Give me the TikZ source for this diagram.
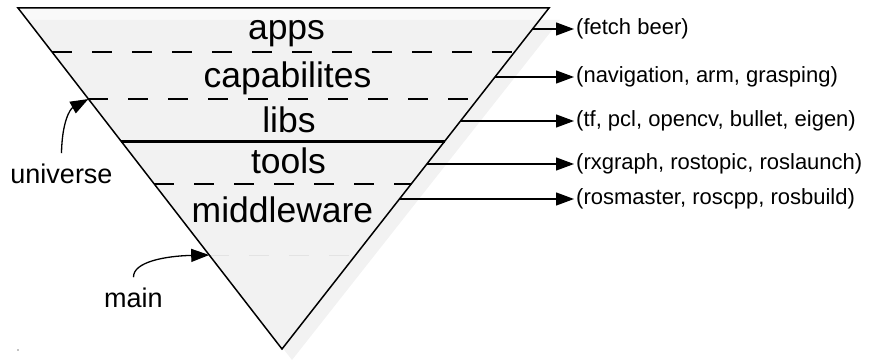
\documentclass[tikz,border=0pt]{standalone}
\usepackage{fontspec}
\setmainfont{Liberation Sans}
\usetikzlibrary{arrows.meta,calc}

\begin{document}
\begin{tikzpicture}[x=1pt,y=-1pt,
  layername/.style={anchor=base,inner sep=0pt,font=\fontsize{35.5}{40}\selectfont},
  pkgs/.style={anchor=west,inner xsep=2pt,inner ysep=0pt,font=\fontsize{22}{26}\selectfont},
  sidename/.style={anchor=base,inner sep=0pt,font=\fontsize{27}{30}\selectfont},
  sepline/.style={line width=1.3pt,dash pattern=on 20pt off 20pt},
  pointer/.style={line width=1.3pt,-{Triangle[length=18pt,width=13pt]}}]

\useasboundingbox (0,0) rectangle (871,361);

%%% TRIANGLE %%%
\coordinate (TL) at (18,8);
\coordinate (TR) at (549,8);
\coordinate (B) at (282,349);
\fill[gray!5] (TL) -- (TR) -- (B) -- cycle;
\fill[gray!10] (28,20) -- (560,20) -- (292,360) -- cycle; % shadow

%%% LAYER LINES %%%
\draw[sepline] (52.1,52) -- (514.5,52);
\draw[sepline] (88.4,99) -- (477.7,99);
\draw[line width=3pt] (121,141) -- (444.9,141);
\draw[sepline] (154.2,184) -- (411.2,184);
\draw[gray!22,line width=1pt,dash pattern=on 20pt off 20pt] (209.2,255) -- (355.6,255);

\draw[line width=1.5pt,line join=miter] (TL) -- (TR) -- (B) -- cycle;

%%% LAYER NAMES %%%
\node[layername] (apps) at (286.5,40) {apps};
\node[layername] (caps) at (287.5,88) {capabilites};
\node[layername] (libs) at (289,132) {libs};
\node[layername] (tools) at (288.5,173) {tools};
\node[layername] (mw) at (282.5,222) {middleware};

%%% PACKAGES %%%
\coordinate (e1) at (532.6,29);
\coordinate (e2) at (495,77);
\coordinate (e3) at (460.5,121);
\coordinate (e4) at (426.9,164);
\coordinate (e5) at (399.4,199);
\node[pkgs] (p1) at (574,29) {(fetch beer)};
\node[pkgs] (p2) at (574,77) {(navigation, arm, grasping)};
\node[pkgs] (p3) at (574,121) {(tf, pcl, opencv, bullet, eigen)};
\node[pkgs] (p4) at (574,164) {(rxgraph, rostopic, roslaunch)};
\node[pkgs] (p5) at (574,199) {(rosmaster, roscpp, rosbuild)};
\foreach \i in {1,...,5}{
\draw[pointer] (e\i) -- (p\i.west);
}

%%% UNIVERSE AND MAIN %%%
\node[sidename] (uni) at (61.5,183) {universe};
\coordinate (u1) at (88.4,99);
\draw[pointer] ([yshift=10pt]uni.north) .. controls (62,122) and (70,109) .. (u1);

\node[sidename] (main) at (133.5,307) {main};
\coordinate (m1) at (209.2,255);
\draw[pointer] ([yshift=10pt]main.north) .. controls (133,262) and (165,256) .. (m1);

\fill (18,350) circle [radius=0.7];

\end{tikzpicture}
\end{document}
